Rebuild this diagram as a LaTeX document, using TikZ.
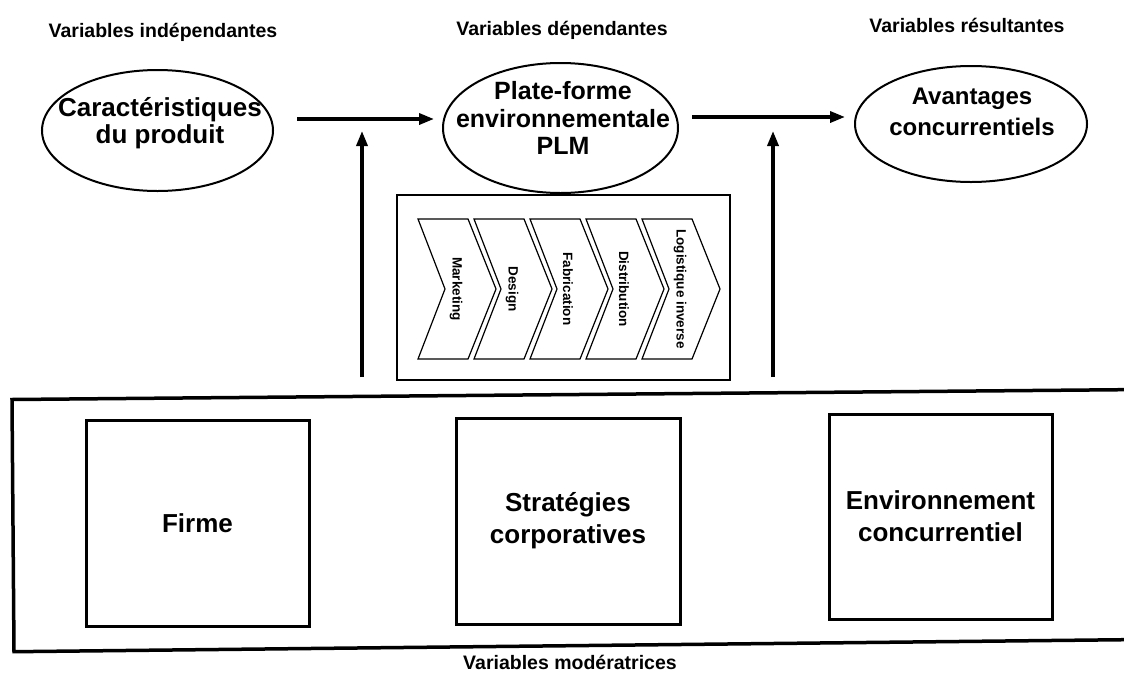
\documentclass[tikz,border=0pt]{standalone}
\usepackage{fontspec}
\setmainfont{Liberation Sans}
\usetikzlibrary{shapes.geometric,arrows.meta,calc}
\begin{document}
\begin{tikzpicture}[x=1pt,y=-1pt,
  oval/.style={draw,ellipse,line width=2pt,inner sep=0pt},
  lbl/.style={font=\bfseries\fontsize{19.5}{22}\selectfont,inner sep=0pt,anchor=base},
  ovaltext/.style={align=center,inner sep=0pt},
  flow/.style={line width=3.4pt,-{Triangle[length=15pt,width=11pt]}},
  box/.style={draw,line width=3pt,inner sep=0pt,align=center,
              font=\bfseries\fontsize{26}{32}\selectfont},
  stagebox/.style={line width=1.2pt,line join=miter},
  stage/.style={font=\bfseries\fontsize{13.5}{15}\selectfont,rotate=-90,inner sep=0pt}
]
\useasboundingbox (0,0) rectangle (1124,672);

% column headings
\node[lbl] (hind) at (163,37) {Variables indépendantes};
\node[lbl] (hdep) at (562,35) {Variables dépendantes};
\node[lbl] (hres) at (967,32) {Variables résultantes};

% the three variables
\node[oval,minimum width=231pt,minimum height=121pt] (e1) at (157.5,130.5) {};
\node[ovaltext,font=\bfseries\fontsize{26}{27}\selectfont] (t1) at (160,123.6)
  {Caractéristiques\\du produit};

\node[oval,minimum width=235pt,minimum height=130pt] (e2) at (560.5,128) {};
\node[ovaltext,font=\bfseries\fontsize{25}{27.5}\selectfont] (t2) at (563,118.4)
  {Plate-forme\\environnementale\\PLM};

\node[oval,minimum width=232pt,minimum height=116pt] (e3) at (971,124) {};
\node[ovaltext,font=\bfseries\fontsize{24}{31}\selectfont] (t3) at (972,112)
  {Avantages\\concurrentiels};

% causal arrows
\coordinate (h1) at (297,119);
\coordinate (h2) at (692,117);
\draw[flow,shorten >=8pt] (h1) -- (h1 -| e2.west);
\draw[flow,shorten >=9pt] (h2) -- (h2 -| e3.west);

% value chain of the platform
\node[draw,line width=2pt,minimum width=333pt,minimum height=185pt,inner sep=0pt]
  (chain) at (563.5,287.5) {};
\foreach \x/\t [count=\i] in {418/Marketing,474/Design,530/Fabrication,
                              586/Distribution,642/Logistique inverse} {
  \draw[stagebox] (\x,219) -- ++(50,0) -- ++(28,70) -- ++(-28,70)
                  -- ++(-50,0) -- ++(27,-70) -- cycle;
  \node[stage] (s\i) at (\x+38,289) {\t};
}

% moderating influences
\coordinate (v1) at (362,377);
\coordinate (v2) at (773,377);
\draw[flow] (v1) -- ++(0,-246);
\draw[flow] (v2) -- ++(0,-246);

% moderating variables (frame runs off the right edge, slightly skewed)
\draw[line width=3.5pt,line join=miter]
  (1134,389.6) -- (12,399.5) -- (14,651.7) -- (1134,639.6);
\node[box,minimum width=223pt,minimum height=206pt] (firm) at (197.5,523) {Firme};
\node[box,minimum width=224pt,minimum height=206pt] (strat) at (568,521)
  {Stratégies\\corporatives};
\node[box,minimum width=223pt,minimum height=205pt] (env) at (940.5,516.5)
  {Environnement\\concurrentiel};
\node[lbl] (hmod) at (570,669) {Variables modératrices};
\end{tikzpicture}
\end{document}
